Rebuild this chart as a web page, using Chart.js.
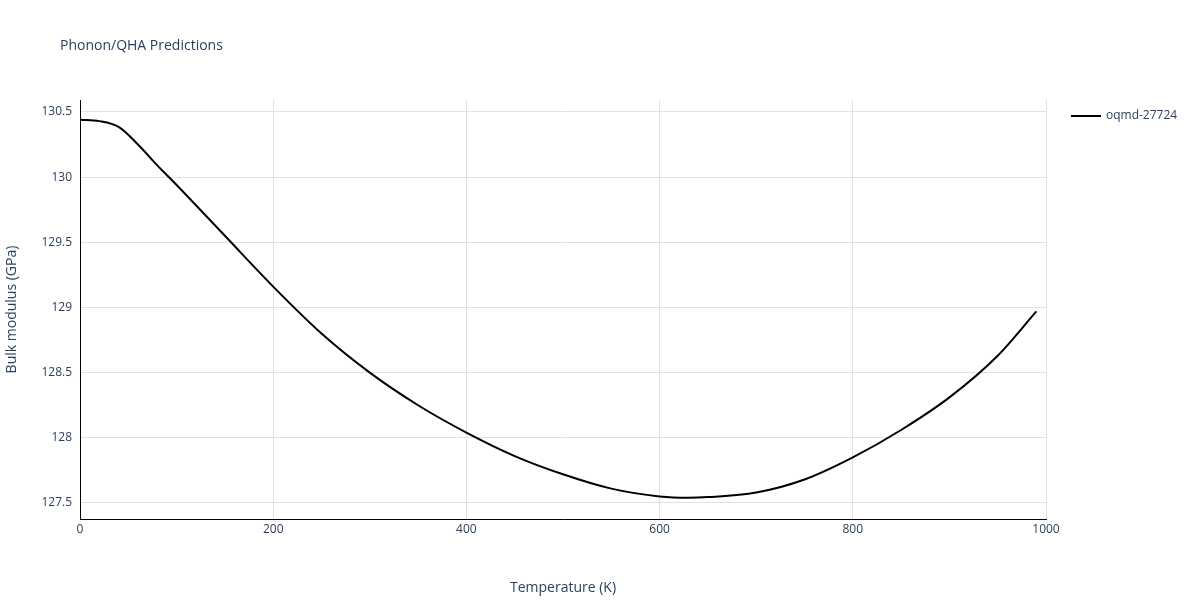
<!DOCTYPE html>
<html>
<head>
<meta charset="utf-8">
<script src="https://cdn.jsdelivr.net/npm/chart.js@4/dist/chart.umd.min.js"></script>
<style>
  body { margin: 0; background: #fff; font-family: "Open Sans", sans-serif; }
  #wrap { position: relative; width: 1200px; height: 600px; }
  #titulo { position: absolute; left: 60px; top: 35px; font-size: 14px; color: #2a3f5f; }
  #leyenda { position: absolute; left: 1071px; top: 106px; font-size: 12px; color: #2a3f5f; }
  #leyenda span { display: inline-block; width: 30px; height: 2px; background: #000; vertical-align: middle; margin-right: 5px; }
  canvas { position: absolute; left: 0; top: 0; }
</style>
</head>
<body>
<div id="wrap">
  <canvas id="grafico" width="1200" height="600"></canvas>
  <div id="titulo">Phonon/QHA Predictions</div>
  <div id="leyenda"><span></span>oqmd-27724</div>
</div>
<script>
const temperaturas = [0, 20, 40, 60, 80, 100, 150, 200, 250, 300, 350, 400, 450, 500, 550, 600, 630, 650, 700, 750, 800, 850, 900, 950, 990];
const modulo = [130.44, 130.43, 130.385, 130.25, 130.09, 129.94, 129.55, 129.16, 128.80, 128.50, 128.25, 128.04, 127.86, 127.72, 127.61, 127.55, 127.54, 127.545, 127.58, 127.68, 127.85, 128.06, 128.31, 128.63, 128.97];

const puntos = temperaturas.map((t, i) => ({ x: t, y: modulo[i] }));

Chart.defaults.font.family = '"Open Sans", sans-serif';

const ctx = document.getElementById('grafico').getContext('2d');
const chart = new Chart(ctx, {
  type: 'scatter',
  data: {
    datasets: [{
      label: 'oqmd-27724',
      data: puntos,
      showLine: true,
      borderColor: '#000',
      borderWidth: 2,
      pointRadius: 0,
      cubicInterpolationMode: 'monotone',
      fill: false
    }]
  },
  options: {
    responsive: false,
    animation: false,
    layout: { padding: { left: 0, top: 100, right: 154, bottom: 0 } },
    plugins: { legend: { display: false }, tooltip: { enabled: false } },
    scales: {
      x: {
        type: 'linear', min: 0, max: 1000,
        afterFit: axis => { axis.height = 81; },
        ticks: { stepSize: 200, color: '#2a3f5f', font: { size: 12 }, callback: v => String(v) },
        grid: { color: '#e1e1e1', drawTicks: false },
        border: { color: '#000' },
        title: { display: true, text: 'Temperature (K)', color: '#2a3f5f', font: { size: 14 }, padding: { top: 10 } }
      },
      y: {
        min: 127.377, max: 130.592,
        afterFit: axis => { axis.width = 80; },
        afterBuildTicks: axis => { axis.ticks = [127.5, 128, 128.5, 129, 129.5, 130, 130.5].map(v => ({ value: v })); },
        ticks: { color: '#2a3f5f', font: { size: 12 }, callback: v => String(v), padding: 8 },
        grid: { color: '#e1e1e1', drawTicks: false },
        border: { color: '#000' },
        title: { display: true, text: 'Bulk modulus (GPa)', color: '#2a3f5f', font: { size: 14 } }
      }
    }
  }
});
</script>
</body>
</html>
